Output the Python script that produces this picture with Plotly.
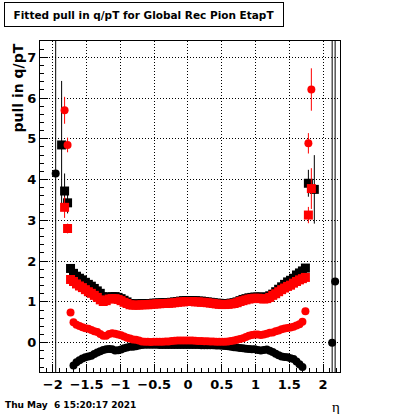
import plotly.graph_objects as go

# ---- data -------------------------------------------------------------
eta = [-1.738, -1.694, -1.650, -1.606, -1.562, -1.518, -1.474, -1.430, -1.386, -1.342,
       -1.298, -1.254, -1.210, -1.166, -1.122, -1.078, -1.034, -0.990, -0.946, -0.902,
       -0.858, -0.814, -0.770, -0.726, -0.682, -0.638, -0.594, -0.550, -0.506, -0.462,
       -0.418, -0.374, -0.330, -0.286, -0.242, -0.198, -0.154, -0.110, -0.066, -0.022,
       0.022, 0.066, 0.110, 0.154, 0.198, 0.242, 0.286, 0.330, 0.374, 0.418,
       0.462, 0.506, 0.550, 0.594, 0.638, 0.682, 0.726, 0.770, 0.814, 0.858,
       0.902, 0.946, 0.990, 1.034, 1.078, 1.122, 1.166, 1.210, 1.254, 1.298,
       1.342, 1.386, 1.430, 1.474, 1.518, 1.562, 1.606, 1.650, 1.694, 1.738]

sigma_black = [1.82, 1.70, 1.63, 1.58, 1.54, 1.48, 1.43, 1.385, 1.33, 1.27,
               1.21, 1.13, 1.09, 1.11, 1.13, 1.13, 1.11, 1.08, 1.04, 1.00,
               0.96, 0.95, 0.95, 0.95, 0.96, 0.955, 0.96, 0.96, 0.97, 0.97,
               0.975, 0.98, 0.98, 0.985, 0.99, 1.00, 1.01, 1.02, 1.03, 1.03,
               1.03, 1.03, 1.03, 1.02, 1.02, 1.01, 1.00, 0.99, 0.98, 0.97,
               0.965, 0.96, 0.96, 0.96, 0.97, 0.98, 1.00, 1.03, 1.06, 1.08,
               1.10, 1.11, 1.12, 1.12, 1.12, 1.11, 1.12, 1.15, 1.19, 1.25,
               1.31, 1.37, 1.43, 1.49, 1.53, 1.58, 1.66, 1.71, 1.76, 1.83]

sigma_red = [1.55, 1.50, 1.44, 1.39, 1.35, 1.30, 1.25, 1.21, 1.16, 1.11,
             1.05, 1.01, 1.03, 1.07, 1.08, 1.08, 1.06, 1.03, 0.99, 0.96,
             0.93, 0.92, 0.92, 0.92, 0.93, 0.93, 0.93, 0.94, 0.945, 0.95,
             0.955, 0.96, 0.96, 0.965, 0.97, 0.98, 0.99, 1.00, 1.00, 1.01,
             1.01, 1.01, 1.00, 1.00, 0.99, 0.99, 0.98, 0.97, 0.96, 0.95,
             0.94, 0.935, 0.935, 0.94, 0.95, 0.96, 0.98, 1.01, 1.03, 1.05,
             1.07, 1.08, 1.09, 1.09, 1.08, 1.07, 1.08, 1.11, 1.16, 1.20,
             1.25, 1.30, 1.34, 1.38, 1.41, 1.46, 1.50, 1.54, 1.57, 1.60]

mean_red = [0.74, 0.50, 0.44, 0.41, 0.38, 0.355, 0.34, 0.31, 0.28, 0.26,
            0.21, 0.17, 0.17, 0.21, 0.23, 0.22, 0.20, 0.18, 0.15, 0.12,
            0.10, 0.08, 0.07, 0.05, 0.03, 0.02, 0.02, 0.015, 0.02, 0.02,
            0.02, 0.025, 0.03, 0.03, 0.04, 0.045, 0.05, 0.05, 0.055, 0.05,
            0.05, 0.05, 0.045, 0.04, 0.04, 0.035, 0.035, 0.03, 0.03, 0.025,
            0.025, 0.02, 0.025, 0.03, 0.04, 0.05, 0.07, 0.09, 0.11, 0.14,
            0.17, 0.19, 0.20, 0.20, 0.19, 0.20, 0.22, 0.24, 0.25, 0.28,
            0.30, 0.33, 0.35, 0.36, 0.37, 0.39, 0.42, 0.45, 0.51, 0.77]

mean_black = [None, -0.56, -0.48, -0.43, -0.39, -0.36, -0.34, -0.32, -0.28, -0.24,
              -0.21, -0.18, -0.16, -0.155, -0.16, -0.19, -0.185, -0.17, -0.14, -0.12,
              -0.10, -0.10, -0.09, -0.07, -0.06, -0.05, -0.05, -0.05, -0.05, -0.05,
              -0.055, -0.055, -0.055, -0.06, -0.06, -0.06, -0.06, -0.06, -0.06, -0.06,
              -0.06, -0.06, -0.06, -0.06, -0.065, -0.065, -0.065, -0.065, -0.065, -0.07,
              -0.07, -0.075, -0.08, -0.09, -0.10, -0.11, -0.12, -0.13, -0.14, -0.15,
              -0.155, -0.16, -0.16, -0.18, -0.195, -0.18, -0.165, -0.20, -0.23, -0.27,
              -0.31, -0.34, -0.35, -0.36, -0.38, -0.40, -0.46, -0.53, -0.60, None]

# outlying bins (with visible error bars)
out_eta_sigma_black = [-1.870, -1.826, -1.782, 1.782, 1.870]
out_sigma_black = [4.85, 3.72, 3.43, 3.91, 3.76]
out_sigma_black_err = [1.57, 0.43, 0.26, 0.33, 0.84]

out_eta_sigma_red = [-1.826, -1.782, 1.782, 1.826]
out_sigma_red = [3.32, 2.80, 3.13, 3.78]
out_sigma_red_err = [0.26, 0.12, 0.20, 0.50]

out_eta_mean_red = [-1.826, -1.782, 1.782, 1.826]
out_mean_red = [5.70, 4.85, 4.89, 6.21]
out_mean_red_err = [0.33, 0.18, 0.25, 0.52]

out_eta_mean_black = [-1.958, 2.134, 2.178]
out_mean_black = [4.15, 0.0, 1.50]
out_mean_black_err = [12.0, 12.0, 12.0]

# ---- figure -----------------------------------------------------------
BLACK = "#000000"
RED = "#ff0000"
SQ = 9
CI = 8

fig = go.Figure()

def add(x, y, color, symbol, size, err=None):
    kw = {}
    if err is not None:
        kw["error_y"] = dict(type="data", array=err, visible=True, color=color,
                             thickness=1, width=0)
    fig.add_trace(go.Scatter(x=x, y=y, mode="markers",
                             marker=dict(color=color, symbol=symbol, size=size,
                                         line=dict(width=0)),
                             showlegend=False, hoverinfo="skip", **kw))

add(eta, mean_black, BLACK, "circle", CI)
add(out_eta_mean_black, out_mean_black, BLACK, "circle", CI, out_mean_black_err)
add(eta, sigma_black, BLACK, "square", SQ)
add(out_eta_sigma_black, out_sigma_black, BLACK, "square", SQ, out_sigma_black_err)
add(eta, mean_red, RED, "circle", CI)
add(out_eta_mean_red, out_mean_red, RED, "circle", CI, out_mean_red_err)
add(eta, sigma_red, RED, "square", SQ)
add(out_eta_sigma_red, out_sigma_red, RED, "square", SQ, out_sigma_red_err)

TICKFONT = dict(family="DejaVu Sans", size=13, color="black", weight="bold")
common = dict(showline=True, linecolor="black", linewidth=1, mirror=True,
              ticks="inside", tickcolor="black", tickwidth=1,
              showgrid=True, gridcolor="black", gridwidth=1, griddash="1px,2px",
              zeroline=False, tickfont=TICKFONT, automargin=False)

fig.update_xaxes(range=[-2.19, 2.25], tick0=0, dtick=0.5, ticklen=8,
                 minor=dict(tick0=0, dtick=0.1, ticks="inside", ticklen=4,
                            tickcolor="black", showgrid=False),
                 **common)
fig.update_yaxes(range=[-0.72, 7.4], tick0=0, dtick=1, ticklen=8,
                 minor=dict(tick0=0, dtick=0.2, ticks="inside", ticklen=4,
                            tickcolor="black", showgrid=False),
                 **common)

W, H = 400, 414
L, R, T, B = 40, 60, 41, 42
pw, ph = W - L - R, H - T - B

def px(xp):
    return (xp - L) / pw

def py(yp):
    return (H - B - yp) / ph

annotations = [
    dict(text="Fitted pull in q/pT for Global Rec Pion EtapT",
         xref="paper", yref="paper", x=px(4), y=py(2), xanchor="left", yanchor="top",
         showarrow=False, width=276, height=21, borderpad=1, bordercolor="black",
         borderwidth=1, bgcolor="white", align="center", valign="middle",
         font=dict(family="DejaVu Sans", size=10.5, color="black", weight="bold")),
    dict(text="pull in q/pT", xref="paper", yref="paper", x=px(17), y=py(42),
         xanchor="center", yanchor="top", textangle=-90, showarrow=False,
         font=dict(family="DejaVu Sans", size=14, color="black", weight="bold")),
    dict(text="η", xref="paper", yref="paper", x=px(336), y=py(407),
         xanchor="center", yanchor="middle", showarrow=False,
         font=dict(family="Liberation Serif", size=15, color="black")),
    dict(text="Thu May  6 15:20:17 2021", xref="paper", yref="paper", x=px(3), y=py(405),
         xanchor="left", yanchor="middle", showarrow=False,
         font=dict(family="DejaVu Sans", size=9, color="black", weight="bold")),
]

fig.update_layout(width=W, height=H, margin=dict(l=L, r=R, t=T, b=B, autoexpand=False),
                  paper_bgcolor="white", plot_bgcolor="white", hovermode=False,
                  annotations=annotations, showlegend=False)

fig.write_html("out.html", config={"displayModeBar": False, "staticPlot": True},
               post_script="document.body.style.margin='0';document.body.style.overflow='hidden';")
